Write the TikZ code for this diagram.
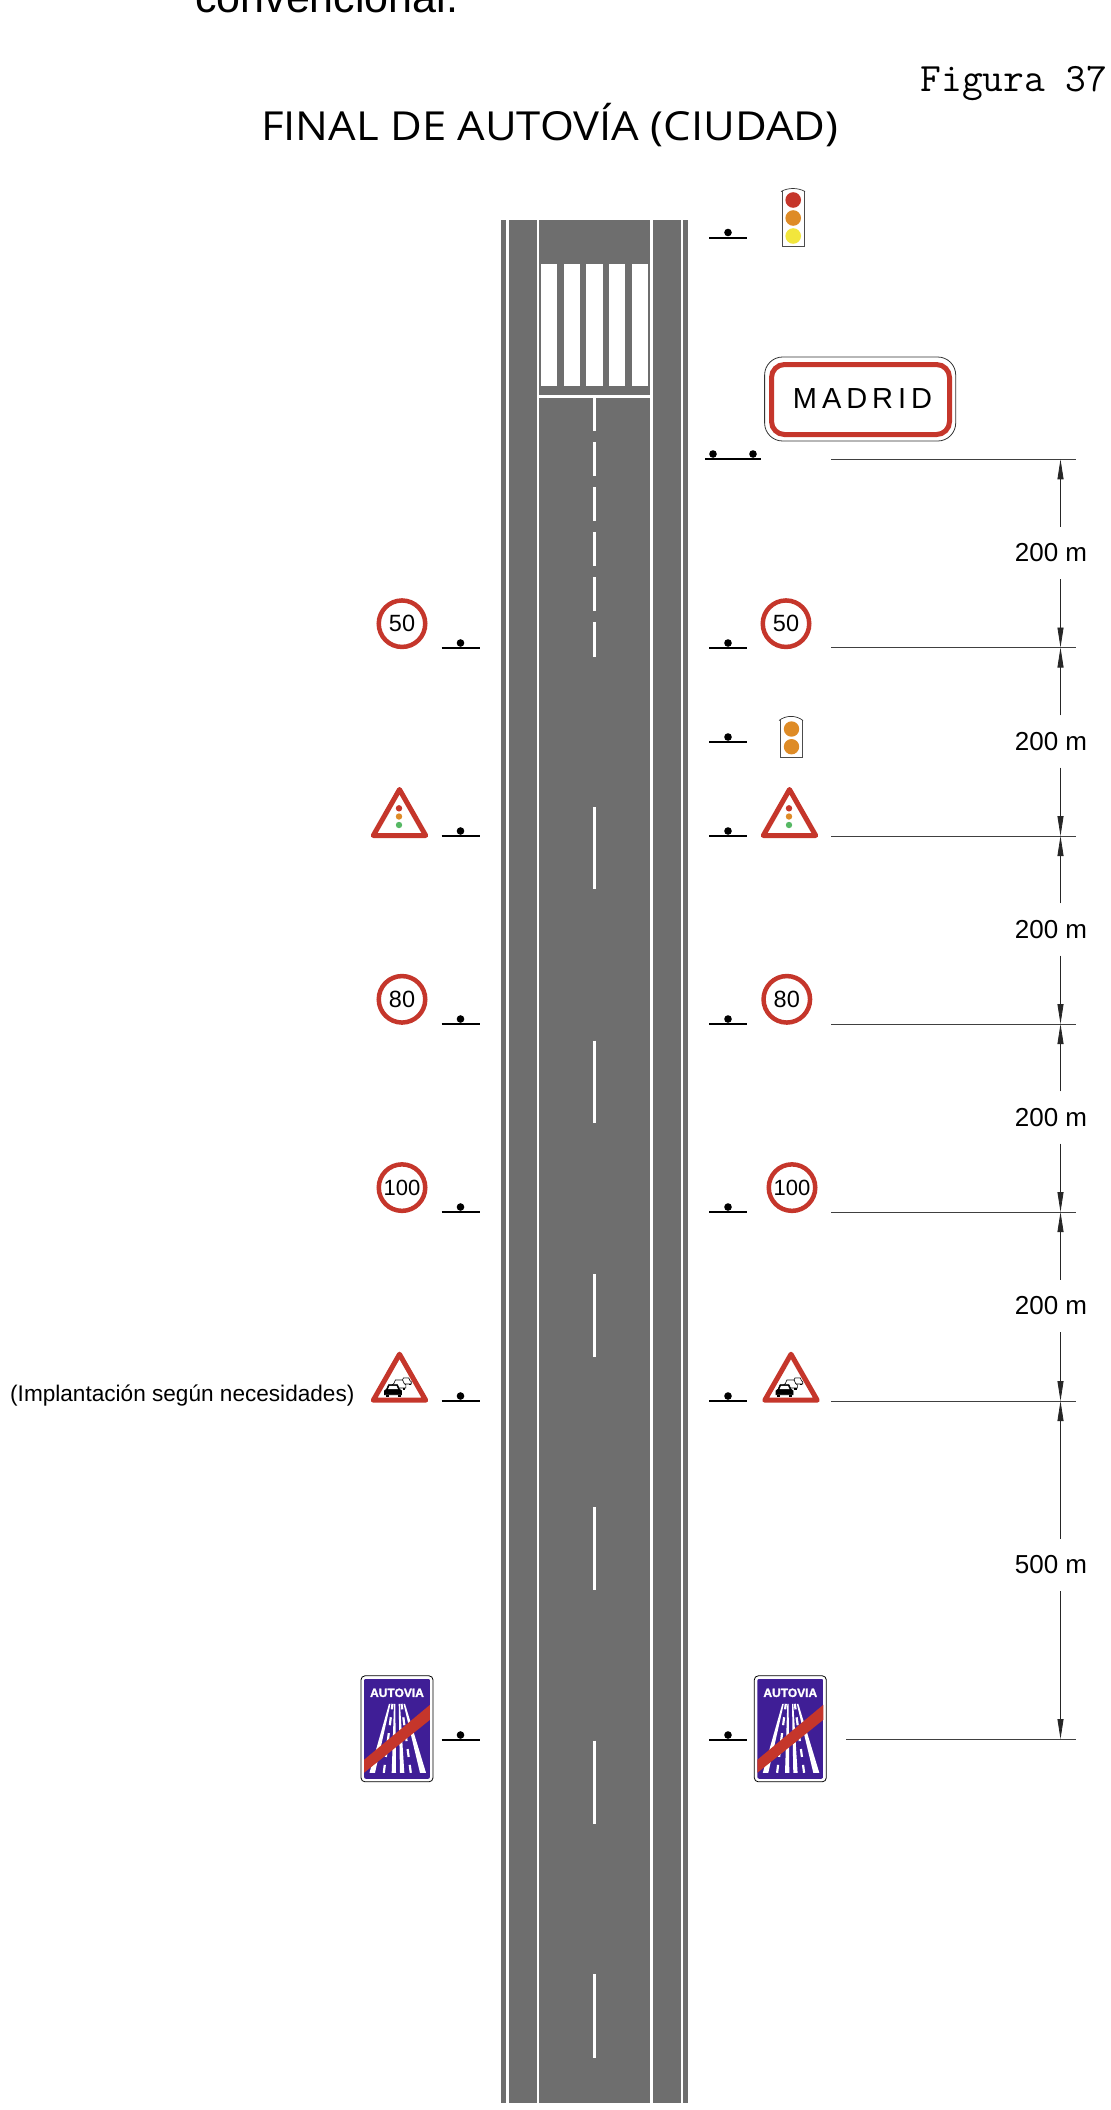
\documentclass[tikz,border=0pt]{standalone}
\usepackage{fontspec}
\setmainfont{Liberation Sans}
\newfontfamily\titlefont[FakeStretch=1.09]{Open Sans}
\usetikzlibrary{arrows.meta}
\definecolor{asfalto}{HTML}{6E6E6E}
\definecolor{rojosenal}{HTML}{C5362B}
\definecolor{ambar}{HTML}{DE8B26}
\definecolor{amarillo}{HTML}{F2E63C}
\definecolor{verde}{HTML}{56B864}
\definecolor{azulsenal}{HTML}{3F1E96}
\tikzset{
  coche/.pic={
    \draw[line width=.6pt, fill=#1] (-15,-8) -- (-15,-12) -- (-13,-13.5) -- (-11,-18) -- (-2,-18) -- (0,-13.5) -- (2,-12) -- (2,-8) -- cycle;
    \fill[white] (-11.5,-13.5) -- (-10,-16.8) -- (-3,-16.8) -- (-1.5,-13.5) -- cycle;
    \fill[black] (-14,-8) rectangle (-11,-6);
    \fill[black] (-2,-8) rectangle (1,-6);
  },
  coche/.default=black,
  poste/.pic={
    \draw[line width=2pt] (-19,0) -- (19,0);
    \fill (0,-5) circle (3.8pt);
  },
  triangulo/.pic={
    \draw[rojosenal, fill=white, line width=5pt, line join=round] (-26.2,-2.5) -- (0,-48.5) -- (26.2,-2.5) -- cycle;
  },
  luces/.pic={
    \pic {triangulo};
    \fill[rojosenal] (-.5,-29.7) circle (3.2pt);
    \fill[ambar] (-.5,-21.5) circle (3.2pt);
    \fill[verde] (-.5,-13) circle (3.2pt);
  },
  retencion/.pic={
    \pic {triangulo};
    \pic[shift={(10.5,-13.9)}, scale=.6] {coche=white};
    \pic[shift={(4.7,-8.3)}, scale=.8] {coche=white};
    \pic {coche};
  },
  finautovia/.pic={
    \draw[line width=.8pt, fill=white, rounded corners=4pt] (-36,-53) rectangle (36,53);
    \begin{scope}
      \clip[rounded corners=2pt] (-33,-50) rectangle (33,50);
      \fill[azulsenal] (-33,-50) rectangle (33,50);
      \fill[white] (-27.5,44) -- (-22,44) -- (-6.5,-25) -- (-8,-25) -- cycle;
      \fill[white] (-5.3,44) -- (-1,44) -- (-1.7,-25) -- (-3,-25) -- cycle;
      \fill[white] (3,44) -- (7.3,44) -- (3,-25) -- (1.7,-25) -- cycle;
      \fill[white] (23,44) -- (29,44) -- (8,-25) -- (6.5,-25) -- cycle;
      \draw[white, line width=2.2pt, dash pattern=on 8pt off 8pt] (-13.2,44) -- (-4.5,-25);
      \draw[white, line width=2.2pt, dash pattern=on 8pt off 8pt] (13.8,44) -- (4.5,-25);
      \fill[rojosenal] (-33,31) -- (33,-24) -- (33,-9) -- (-33,44) -- cycle;
    \end{scope}
    \node[font=\bfseries\addfontfeature{FakeBold=1.5}\fontsize{12}{14}\selectfont, text=white, inner sep=0pt] (-rotulo) at (0,-36) {AUTOVIA};
  }
}
\begin{document}
\begin{tikzpicture}[x=1pt, y=-1pt,
  via/.style={fill=asfalto},
  marca/.style={white, line width=2.4pt},
  cebra/.style={fill=white},
  vel/.style={circle, draw=rojosenal, fill=white, line width=4.5pt, minimum size=46.5pt, inner sep=0pt, font=\fontsize{23.5}{27}\selectfont},
  cotatxt/.style={inner sep=0pt, minimum height=52pt, font=\fontsize{26}{30}\selectfont},
  ext/.style={black!75, line width=.8pt},
  cota/.style={black!85, line width=.8pt, -{Triangle[length=20pt,width=6pt]}},
  caja/.style={draw=black!70, line width=.8pt, fill=white}]
\useasboundingbox (0,0) rectangle (1111,2110);
\node[anchor=base west, inner sep=0pt, font=\fontsize{43}{50}\selectfont] (parrafo) at (195,12) {convencional.};
\node[anchor=base east, inner sep=0pt, font=\ttfamily\fontsize{40.3}{44}\selectfont] (figura) at (1107.5,91) {Figura 37};
\node[anchor=base west, inner sep=0pt, font=\titlefont\fontsize{40}{46}\selectfont] (titulo) at (261,140) {FINAL DE AUTOVÍA (CIUDAD)};

\fill[via] (500.7,220) rectangle (506.3,2103);
\fill[via] (509.3,220) rectangle (536.7,2103);
\fill[via] (539.3,220) rectangle (650,2103);
\fill[via] (652.7,220) rectangle (680.7,2103);
\fill[via] (683,220) rectangle (688.3,2103);

\fill[cebra] (541,264) rectangle (557,386);
\fill[cebra] (564,264) rectangle (580,386);
\fill[cebra] (586,264) rectangle (602.5,386);
\fill[cebra] (609,264) rectangle (625,386);
\fill[cebra] (631.5,264) rectangle (647.5,386);
\fill[cebra] (539.3,395) rectangle (650,398);

\draw[marca] (594.5,398) -- (594.5,431);
\draw[marca] (594.5,442) -- (594.5,476);
\draw[marca] (594.5,487) -- (594.5,521);
\draw[marca] (594.5,532) -- (594.5,566);
\draw[marca] (594.5,577) -- (594.5,611);
\draw[marca] (594.5,622) -- (594.5,657);
\draw[marca] (594.5,807) -- (594.5,889);
\draw[marca] (594.5,1040.5) -- (594.5,1123);
\draw[marca] (594.5,1274) -- (594.5,1357);
\draw[marca] (594.5,1507) -- (594.5,1590);
\draw[marca] (594.5,1740.5) -- (594.5,1824);
\draw[marca] (594.5,1974) -- (594.5,2058);

\pic (pa) at (728,237.5) {poste};
\pic (pc) at (728,648) {poste};
\pic (pd) at (728,742) {poste};
\pic (pe) at (728,836) {poste};
\pic (pf) at (728,1024) {poste};
\pic (pg) at (728,1212) {poste};
\pic (ph) at (728,1401) {poste};
\pic (pi) at (728,1740) {poste};
\pic (qc) at (460.5,648) {poste};
\pic (qe) at (460.5,836) {poste};
\pic (qf) at (460.5,1024) {poste};
\pic (qg) at (460.5,1212) {poste};
\pic (qh) at (460.5,1401) {poste};
\pic (qi) at (460.5,1740) {poste};
\draw[line width=2pt] (705,459) -- (761,459);
\fill (713,454) circle (3.8pt);
\fill (753,454) circle (3.8pt);

\draw[caja] (782,191) -- (782,246) -- (804,246) -- (804,191);
\draw[black!80, line width=.7pt] (781,191.5) .. controls (788,187.5) and (798,187.5) .. (805,191.5);
\fill[rojosenal] (793.2,200) circle (7.8pt);
\fill[ambar] (793.2,218) circle (7.8pt);
\fill[amarillo] (793.2,236) circle (7.8pt);

\draw[caja] (780,720) -- (780,757) -- (802,757) -- (802,720);
\draw[black!80, line width=.7pt] (779,720.5) .. controls (786,715) and (796,715) .. (803,720.5);
\fill[ambar] (791.5,729) circle (7.7pt);
\fill[ambar] (791.5,746.7) circle (7.7pt);

\draw[black!80, line width=.8pt, rounded corners=18pt] (764.6,357) rectangle (955.7,441);
\draw[rojosenal, line width=5pt, rounded corners=13pt] (771.5,364.5) rectangle (949.5,434.5);
\node[inner sep=0pt, font=\addfontfeature{LetterSpace=17}\fontsize{29}{34}\selectfont] (madrid) at (862.5,399) {MADRID};

\node[vel] (v50a) at (402,623.7) {50};
\node[vel] (v50b) at (786,623.7) {50};
\node[vel] (v80a) at (402,999.3) {80};
\node[vel] (v80b) at (786.8,999.3) {80};
\node[vel, font=\fontsize{22}{25}\selectfont] (v100a) at (402,1187.6) {100};
\node[vel, font=\fontsize{22}{25}\selectfont] (v100b) at (792,1187.6) {100};

\pic (luza) at (399.5,838) {luces};
\pic (luzb) at (789.5,838) {luces};
\pic (reta) at (399.5,1402.7) {retencion};
\pic (retb) at (791,1402.7) {retencion};
\pic (fina) at (397,1728.8) {finautovia};
\pic (finb) at (790.3,1728.8) {finautovia};

\node[anchor=base west, inner sep=0pt, font=\fontsize{22.6}{27}\selectfont] (nota) at (10,1401) {(Implantación según necesidades)};

\coordinate (e1) at (831,459.3);
\coordinate (e2) at (831,647.5);
\coordinate (e3) at (831,836);
\coordinate (e4) at (831,1024);
\coordinate (e5) at (831,1212);
\coordinate (e6) at (831,1401);
\coordinate (e7) at (846,1739);
\coordinate (f1) at (1076,459.3);
\coordinate (f2) at (1076,647.5);
\coordinate (f3) at (1076,836);
\coordinate (f4) at (1076,1024);
\coordinate (f5) at (1076,1212);
\coordinate (f6) at (1076,1401);
\coordinate (f7) at (1076,1739);
\coordinate (d1) at (1060.5,459.3);
\coordinate (d2) at (1060.5,647.5);
\coordinate (d3) at (1060.5,836);
\coordinate (d4) at (1060.5,1024);
\coordinate (d5) at (1060.5,1212);
\coordinate (d6) at (1060.5,1401);
\coordinate (d7) at (1060.5,1739);
\draw[ext] (e1) -- (f1);
\draw[ext] (e2) -- (f2);
\draw[ext] (e3) -- (f3);
\draw[ext] (e4) -- (f4);
\draw[ext] (e5) -- (f5);
\draw[ext] (e6) -- (f6);
\draw[ext] (e7) -- (f7);
\node[cotatxt] (c1) at (1051,553) {200 m};
\node[cotatxt] (c2) at (1051,741.5) {200 m};
\node[cotatxt] (c3) at (1051,929.5) {200 m};
\node[cotatxt] (c4) at (1051,1117.5) {200 m};
\node[cotatxt] (c5) at (1051,1306) {200 m};
\node[cotatxt] (c6) at (1051,1565) {500 m};
\draw[cota] (c1.north -| d1) -- (d1);
\draw[cota] (c1.south -| d1) -- (d2);
\draw[cota] (c2.north -| d1) -- (d2);
\draw[cota] (c2.south -| d1) -- (d3);
\draw[cota] (c3.north -| d1) -- (d3);
\draw[cota] (c3.south -| d1) -- (d4);
\draw[cota] (c4.north -| d1) -- (d4);
\draw[cota] (c4.south -| d1) -- (d5);
\draw[cota] (c5.north -| d1) -- (d5);
\draw[cota] (c5.south -| d1) -- (d6);
\draw[cota] (c6.north -| d1) -- (d6);
\draw[cota] (c6.south -| d1) -- (d7);
\end{tikzpicture}
\end{document}
